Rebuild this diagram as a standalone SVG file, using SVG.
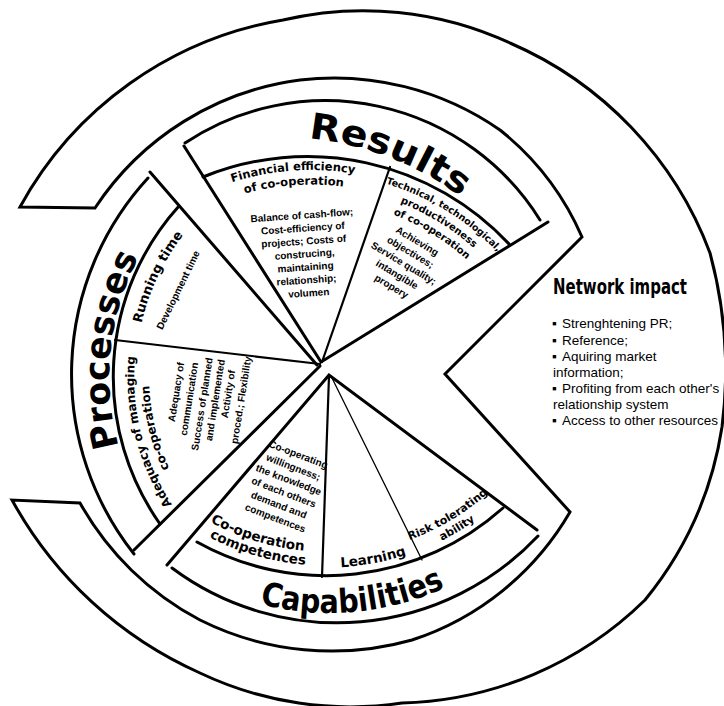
<svg xmlns="http://www.w3.org/2000/svg" width="724" height="706" viewBox="0 0 724 706">
<defs>
<style>
.ln{fill:none;stroke:#000;stroke-width:3;stroke-linecap:round;stroke-linejoin:miter}
.md{stroke-width:2.2}
.tn{stroke-width:1.3}
.hd{font-family:"DejaVu Sans","Liberation Sans",sans-serif;font-weight:bold;fill:#000}
.ds{font-family:"Liberation Sans",Arial,sans-serif;font-weight:bold;font-size:10px;fill:#000}
.nt{font-family:"Liberation Sans",Arial,sans-serif;font-size:13.5px;fill:#000}
</style>
<path id="pRes" d="M227.4,141.6 A303,303 0 0 1 518.8,253.5"/>
<path id="pFin1" d="M180.5,205 A261,261 0 0 1 408.8,189"/>
<path id="pFin2" d="M187.8,217.6 A246.4,246.4 0 0 1 403.3,202.5"/>
<path id="pTec1" d="M335.8,173.7 A258.5,258.5 0 0 1 529,292.1"/>
<path id="pTec2" d="M334.5,187.1 A245,245 0 0 1 517.6,299.4"/>
<path id="pTec3" d="M333.2,200.6 A231.5,231.5 0 0 1 506.2,306.6"/>
<path id="pPro" d="M153.5,521.7 A259,259 0 0 1 188.3,190.6"/>
<path id="pRun" d="M136,395.6 A233,233 0 0 1 235.9,185"/>
<path id="pAdq1" d="M214.7,553.5 A234,234 0 0 1 149.7,293"/>
<path id="pAdq2" d="M223.1,540.9 A219,219 0 0 1 164.4,296.6"/>
<path id="pCap" d="M173.4,563.6 A273,273 0 0 0 523,533"/>
<path id="pCoop1" d="M149.9,475 A241,241 0 0 0 380.4,545.4"/>
<path id="pCoop2" d="M142.8,487.7 A255,255 0 0 0 387.9,558"/>
<path id="pLrn" d="M241.3,553.2 A257,257 0 0 0 493.8,505.4"/>
<path id="pRisk1" d="M329.4,554.6 A244,244 0 0 0 539.1,429.8"/>
<path id="pRisk2" d="M330.7,568.1 A257.5,257.5 0 0 0 551.4,435.4"/>
</defs>
<rect width="724" height="706" fill="#fff"/>

<g id="outer-ring">
<path class="ln" d="M95,208 A290,290 0 0 1 300,80 A290,290 0 0 1 500,130 A280,280 0 0 1 582,237 L445,374 L570,512 A285,285 0 0 1 412,640 A295,295 0 0 1 200,620 A295,295 0 0 1 80,503 L12,500 A400,400 0 0 0 200,673 A350,350 0 0 0 402,703 A360,360 0 0 0 645,600 A360,360 0 0 0 722,427 A450,450 0 0 0 710,253 A370,370 0 0 0 510,43 A350,350 0 0 0 283,20 A370,370 0 0 0 20,207 Z"/>
</g>

<g id="connectors">
<path class="ln" d="M184,146 L321,362 L548,222"/>
<path class="ln md" d="M390,167 L322,362"/>
<path class="ln" d="M185,143 A253,253 0 0 1 540,220"/>
<path class="ln" d="M203,177 A276,276 0 0 1 509,244"/>
<path class="ln" d="M150,172 L317,365"/>
<path class="ln" d="M134,550 L320,366"/>
<path class="ln md" d="M115,340 L320,364"/>
<path class="ln" d="M148,178 A290,290 0 0 0 134,554"/>
<path class="ln" d="M179,206 A255,255 0 0 0 160,524"/>
<path class="ln" d="M167,565 L329,375 L537,530"/>
<path class="ln md" d="M329,376 L322,577"/>
<path class="ln tn" d="M331,376 L422,560"/>
<path class="ln" d="M197,542 A265,265 0 0 0 503,508"/>
<path class="ln" d="M172,568 A276,276 0 0 0 538,536"/>
</g>

<g id="results">
<text class="hd" font-size="36" text-anchor="middle"><textPath href="#pRes" startOffset="50%" textLength="165" lengthAdjust="spacingAndGlyphs">Results</textPath></text>
<text class="hd" font-size="11.5" text-anchor="middle"><textPath href="#pFin1" startOffset="50%">Financial efficiency</textPath></text>
<text class="hd" font-size="11.5" text-anchor="middle"><textPath href="#pFin2" startOffset="50%">of co-operation</textPath></text>
<text class="hd" font-size="9.5" text-anchor="middle"><textPath href="#pTec1" startOffset="50%">Technical, technological,</textPath></text>
<text class="hd" font-size="10" text-anchor="middle"><textPath href="#pTec2" startOffset="50%">productiveness</textPath></text>
<text class="hd" font-size="10" text-anchor="middle"><textPath href="#pTec3" startOffset="50%">of co-operation</textPath></text>
<text class="ds" text-anchor="middle" transform="translate(306,254) rotate(-4)">
<tspan x="0" y="-35.5">Balance of cash-flow;</tspan>
<tspan x="0" y="-22.5">Cost-efficiency of</tspan>
<tspan x="0" y="-9.5">projects; Costs of</tspan>
<tspan x="0" y="3.5">construcing,</tspan>
<tspan x="0" y="16.5">maintaining</tspan>
<tspan x="0" y="29.5">relationship;</tspan>
<tspan x="0" y="42.5">volumen</tspan>
</text>
<text class="ds" text-anchor="middle" transform="translate(405,264) rotate(31)">
<tspan x="0" y="-22.5">Achieving</tspan>
<tspan x="0" y="-9.5">objectives;</tspan>
<tspan x="0" y="3.5">Service quality;</tspan>
<tspan x="0" y="16.5">intangible</tspan>
<tspan x="0" y="29.5">propery</tspan>
</text>
</g>

<g id="processes">
<text class="hd" font-size="35" text-anchor="middle"><textPath href="#pPro" startOffset="50%" textLength="195" lengthAdjust="spacingAndGlyphs">Processes</textPath></text>
<text class="hd" font-size="13" text-anchor="middle"><textPath href="#pRun" startOffset="50%">Running time</textPath></text>
<text class="hd" font-size="12" text-anchor="middle"><textPath href="#pAdq1" startOffset="50%">Adequacy of managing</textPath></text>
<text class="hd" font-size="12" text-anchor="middle"><textPath href="#pAdq2" startOffset="50%">co-operation</textPath></text>
<text class="ds" text-anchor="middle" transform="translate(178,290) rotate(-64)" y="3.5">Development time</text>
<text class="ds" text-anchor="middle" transform="translate(176,392) rotate(-81)" y="3.5">Adequacy of</text>
<text class="ds" text-anchor="middle" transform="translate(189,399) rotate(-81)" y="3.5">communication</text>
<text class="ds" text-anchor="middle" transform="translate(202,404) rotate(-81)" y="3.5">Success of planned</text>
<text class="ds" text-anchor="middle" transform="translate(215,400) rotate(-81)" y="3.5">and implemented</text>
<text class="ds" text-anchor="middle" transform="translate(228,394) rotate(-81)" y="3.5">Activity of</text>
<text class="ds" text-anchor="middle" transform="translate(241,400) rotate(-81)" y="3.5">proced.; Flexibility</text>
</g>

<g id="capabilities">
<text class="hd" font-size="33" text-anchor="middle"><textPath href="#pCap" startOffset="50%" textLength="190" lengthAdjust="spacingAndGlyphs">Capabilities</textPath></text>
<text class="hd" font-size="13.5" text-anchor="middle"><textPath href="#pCoop1" startOffset="50%">Co-operation</textPath></text>
<text class="hd" font-size="13.5" text-anchor="middle"><textPath href="#pCoop2" startOffset="50%">competences</textPath></text>
<text class="hd" font-size="13.5" text-anchor="middle"><textPath href="#pLrn" startOffset="50%">Learning</textPath></text>
<text class="hd" font-size="11" text-anchor="middle"><textPath href="#pRisk1" startOffset="50%">Risk tolerating</textPath></text>
<text class="hd" font-size="11" text-anchor="middle"><textPath href="#pRisk2" startOffset="50%">ability</textPath></text>
<text class="ds" text-anchor="middle" transform="translate(287.5,486.5) rotate(21)">
<tspan x="0" y="-30.25">Co-operating</tspan>
<tspan x="0" y="-16.75">willingness;</tspan>
<tspan x="0" y="-3.25">the knowledge</tspan>
<tspan x="0" y="10.25">of each others</tspan>
<tspan x="0" y="23.75">demand and</tspan>
<tspan x="0" y="37.25">competences</tspan>
</text>
</g>

<g id="network-impact">
<text class="hd" x="553" y="294" font-size="22" textLength="134" lengthAdjust="spacingAndGlyphs">Network impact</text>
<text class="nt">
<tspan x="552" y="328">▪</tspan><tspan x="562" y="328">Strenghtening PR;</tspan>
<tspan x="552" y="344.5">▪</tspan><tspan x="562" y="344.5">Reference;</tspan>
<tspan x="552" y="360.5">▪</tspan><tspan x="562" y="360.5">Aquiring market</tspan>
<tspan x="553" y="376.5">information;</tspan>
<tspan x="552" y="392.5">▪</tspan><tspan x="562" y="392.5">Profiting from each other's</tspan>
<tspan x="553" y="408.5">relationship system</tspan>
<tspan x="552" y="425">▪</tspan><tspan x="562" y="425">Access to other resources</tspan>
</text>
</g>
</svg>
